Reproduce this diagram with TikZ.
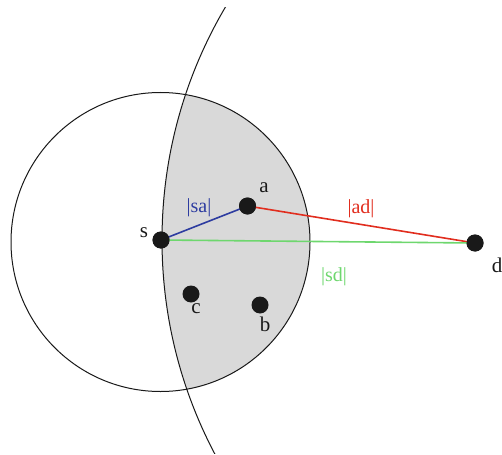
\documentclass[tikz,border=0pt]{standalone}
\usepackage{fontspec}
\setmainfont{Liberation Serif}
\definecolor{lensgray}{RGB}{217,217,217}
\definecolor{sablue}{RGB}{45,60,160}
\definecolor{adred}{RGB}{225,45,30}
\definecolor{sdgreen}{RGB}{110,215,110}
\definecolor{ink}{RGB}{25,25,25}
\begin{document}
\begin{tikzpicture}[x=1pt,y=-1pt,
  dot/.style={circle,fill=ink,inner sep=0pt,minimum size=17pt},
  lbl/.style={font=\fontsize{21}{25}\selectfont,text=ink,inner sep=0pt},
  elbl/.style={font=\fontsize{20}{24}\selectfont,inner sep=0pt},
  outline/.style={draw=ink,line width=1pt},
  link/.style={line width=1.6pt}]
\useasboundingbox (0,0) rectangle (502,454);
\coordinate (cc) at (160.5,242);
\coordinate (bc) at (621,240);
% shaded lens
\begin{scope}
  \clip (bc) circle [radius=459pt];
  \fill[lensgray] (cc) circle [radius=149.5pt];
\end{scope}
% small circle
\draw[outline] (cc) circle [radius=149.5pt];
% big arc
\begin{scope}
  \clip (0,8) rectangle (320,453.5);
  \draw[outline] (bc) circle [radius=459pt];
\end{scope}
% nodes
\node[dot] (s) at (161,240) {};
\node[dot] (a) at (247.5,206) {};
\node[dot] (c) at (191,294) {};
\node[dot] (b) at (260,305) {};
\node[dot] (d) at (475,243) {};
% connectors
\draw[sablue,link] (s.center) -- (a.center);
\draw[adred,link] (a.center) -- (d.center);
\draw[sdgreen,link] (s.center) -- (d.center);
\node[dot] at (s) {};
\node[dot] at (a) {};
\node[dot] at (d) {};
% labels
\node[lbl] (ls) at (144,233) {s};
\node[lbl] (la) at (264,188) {a};
\node[lbl] (lc) at (196,309) {c};
\node[lbl] (lb) at (265,324) {b};
\node[lbl] (ld) at (497,265) {d};
\node[elbl,text=sablue] (lsa) at (199,208) {|sa|};
\node[elbl,text=adred] (lad) at (361,209) {|ad|};
\node[elbl,text=sdgreen] (lsd) at (334,277) {|sd|};
\end{tikzpicture}
\end{document}
